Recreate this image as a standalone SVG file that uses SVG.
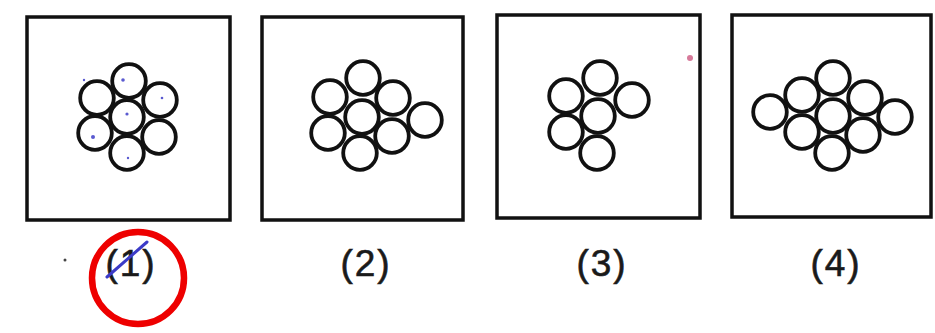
<svg xmlns="http://www.w3.org/2000/svg" width="935" height="333" viewBox="0 0 935 333">
<style>
.box{fill:none;stroke:#111;stroke-width:3.5}
.c{fill:#fff;stroke:#111;stroke-width:3.8}
.lbl{font-family:"Liberation Sans",Arial,sans-serif;font-size:37px;fill:#1a1a1a;stroke:#1a1a1a;stroke-width:0.6;text-anchor:middle;letter-spacing:2px}
.dot{fill:#5a5ad0}
</style>
<rect width="935" height="333" fill="#fff"/>
<g id="option1">
<rect class="box" x="27" y="17" width="203" height="203"/>
<circle class="c" cx="129" cy="81" r="16.8"/>
<circle class="c" cx="97" cy="98" r="16.8"/>
<circle class="c" cx="160" cy="100" r="16.8"/>
<circle class="c" cx="127" cy="117" r="16.8"/>
<circle class="c" cx="95" cy="133" r="16.8"/>
<circle class="c" cx="159" cy="137" r="16.8"/>
<circle class="c" cx="127" cy="153" r="16.8"/>
<circle class="dot" cx="123" cy="80" r="1.8"/>
<circle class="dot" cx="162" cy="98" r="1.3"/>
<circle class="dot" cx="127" cy="114" r="1.6"/>
<circle class="dot" cx="93" cy="137" r="2"/>
<circle class="dot" cx="128" cy="158" r="1.2"/>
<circle class="dot" cx="84" cy="80" r="1.2"/>
<circle cx="65" cy="260" r="1.5" fill="#444"/>
<text class="lbl" x="131" y="276">(1)</text>
<line x1="107" y1="277" x2="147" y2="242" stroke="#3b3bc8" stroke-width="3" stroke-linecap="round"/>
<circle cx="138" cy="278" r="46" fill="none" stroke="#ee0000" stroke-width="6.5"/>
</g>
<g id="option2">
<rect class="box" x="262" y="17" width="201" height="203"/>
<circle class="c" cx="363" cy="78" r="16.8"/>
<circle class="c" cx="330" cy="97" r="16.8"/>
<circle class="c" cx="393" cy="98" r="16.8"/>
<circle class="c" cx="362" cy="117" r="16.8"/>
<circle class="c" cx="328" cy="133" r="16.8"/>
<circle class="c" cx="392" cy="136" r="16.8"/>
<circle class="c" cx="360" cy="153" r="16.8"/>
<circle class="c" cx="425" cy="120" r="16.8"/>
<text class="lbl" x="366" y="276">(2)</text>
</g>
<g id="option3">
<rect class="box" x="497" y="15" width="203" height="203"/>
<circle class="c" cx="600" cy="78" r="16.8"/>
<circle class="c" cx="566" cy="96" r="16.8"/>
<circle class="c" cx="632" cy="100" r="16.8"/>
<circle class="c" cx="598" cy="116" r="16.8"/>
<circle class="c" cx="566" cy="132" r="16.8"/>
<circle class="c" cx="597" cy="153" r="16.8"/>
<circle cx="690" cy="58" r="3" fill="#d77a9a"/>
<text class="lbl" x="602" y="276">(3)</text>
</g>
<g id="option4">
<rect class="box" x="732" y="15" width="199" height="202"/>
<circle class="c" cx="770" cy="112" r="16.8"/>
<circle class="c" cx="802" cy="95" r="16.8"/>
<circle class="c" cx="833" cy="78" r="16.8"/>
<circle class="c" cx="865" cy="98" r="16.8"/>
<circle class="c" cx="833" cy="116" r="16.8"/>
<circle class="c" cx="895" cy="117" r="16.8"/>
<circle class="c" cx="802" cy="132" r="16.8"/>
<circle class="c" cx="863" cy="135" r="16.8"/>
<circle class="c" cx="832" cy="153" r="16.8"/>
<text class="lbl" x="836" y="276">(4)</text>
</g>
<g id="connectors"/>
</svg>
